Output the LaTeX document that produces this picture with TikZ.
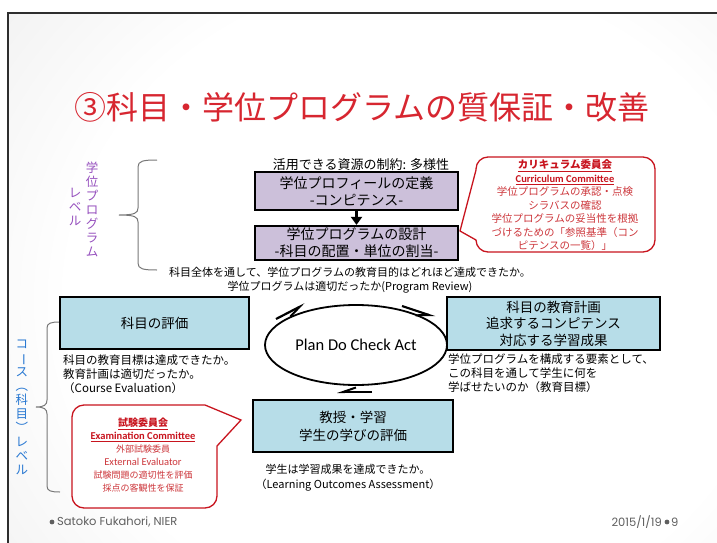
\documentclass[tikz,border=0pt]{standalone}
\usepackage{fontspec}
\usepackage{graphicx}
\setmainfont{Noto Sans CJK JP}
\newfontfamily\calibrif{Carlito}
\newfontfamily\footfont{Poppins}
\usetikzlibrary{arrows.meta,shapes.geometric}
\definecolor{titlered}{RGB}{215,38,48}
\definecolor{callred}{RGB}{200,20,30}
\definecolor{calltext}{RGB}{205,55,60}
\definecolor{lilac}{RGB}{204,192,218}
\definecolor{lblue}{RGB}{183,221,232}
\definecolor{purp}{RGB}{150,80,190}
\definecolor{cblue}{RGB}{40,120,210}
\definecolor{bracegray}{RGB}{120,120,120}
\definecolor{footgray}{RGB}{95,95,95}
\pgfdeclareradialshading{slidebg}{\pgfpoint{0bp}{0bp}}{color(0bp)=(white); color(20bp)=(white); color(50bp)=(black!15)}
\newcommand{\setfs}[2]{\fontsize{#1}{#2}\selectfont}
\newcommand{\vrotchar}[1]{\rotatebox[origin=c]{-90}{#1}}
\begin{document}
\begin{tikzpicture}[x=1pt,y=-1pt,
  box/.style={draw=black,line width=2.2pt,inner sep=0pt,align=center},
  lilacbox/.style={box,fill=lilac,minimum width=203pt,minimum height=38pt,font=\setfs{14}{17}},
  bluebox/.style={box,fill=lblue,font=\setfs{13.5}{17}},
  note/.style={inner sep=0pt,align=left,font=\setfs{11.5}{14}},
  brace/.style={draw=bracegray,line width=1pt},
  harp/.style={line width=2.2pt,-{Straight Barb[harpoon,swap,length=13pt,width=9pt,line width=2pt]}},
  callshape/.style={draw=callred,line width=1.3pt,fill=white},
  vtext/.style={inner sep=0pt,align=center,font=\setfs{12.5}{14}},
]
\useasboundingbox (0,0) rectangle (717,543);
% background
\fill[white] (0,0) rectangle (717,543);
\begin{scope}
  \clip (8,13) rectangle (717,543);
  \shade[shading=slidebg] (-20,-100) rectangle (860,700);
\end{scope}
\draw[line width=2.5pt,black!82] (8,545) -- (8,13) -- (719,13);

% title
\node[text=titlered,font=\setfs{32}{36},inner sep=0pt] (title) at (362,107) {③科目・学位プログラムの質保証・改善};

% upper level label and brace
\node[vtext,text=purp] (lvA) at (92,209) {学\\位\\プ\\ロ\\グ\\ラ\\ム};
\node[vtext,text=purp] (lvB) at (75,207) {レ\\ベ\\ル};
\draw[brace] (157,160) .. controls (143,160) and (138,161) .. (138,167) -- (138,208) .. controls (138,213) and (135,215) .. (119,215) .. controls (135,215) and (138,217) .. (138,222) -- (138,263) .. controls (138,269) and (143,270) .. (157,270);

% lower level label and brace
\node[vtext,text=cblue] (lvC) at (22,407) {コ\\\vrotchar{ー}\\ス\\\vrotchar{（}\\科\\目\\\vrotchar{）}\\レ\\ベ\\ル};
\draw[brace] (60,322) .. controls (51,322) and (47,323) .. (47,328) -- (47,400) .. controls (47,405) and (44,407) .. (36,407) .. controls (44,407) and (47,409) .. (47,414) -- (47,486) .. controls (47,491) and (51,492) .. (60,492);

% top flow
\node[inner sep=0pt,font=\setfs{13}{15}] (res) at (361,165) {活用できる資源の制約: 多様性};
\node[lilacbox] (prof) at (356.5,191) {学位プロフィールの定義\\-コンピテンス-};
\node[lilacbox,minimum height=34pt] (design) at (356.5,243) {学位プログラムの設計\\-科目の配置・単位の割当-};
\draw[line width=3pt,-{Triangle[length=8pt,width=11pt]}] (prof) -- (design);
\node[inner sep=0pt,align=center,font=\setfs{11}{14.5}] (review) at (350,280) {科目全体を通して、学位プログラムの教育目的はどれほど達成できたか。\\学位プログラムは適切だったか(Program Review)};

% curriculum committee callout
\draw[callshape] (476,170) -- (476,169) .. controls (476,162.4) and (481.4,157) .. (488,157) -- (643,157) .. controls (649.6,157) and (655,162.4) .. (655,169) -- (655,240) .. controls (655,246.6) and (649.6,252) .. (643,252) -- (488,252) .. controls (481.4,252) and (476,246.6) .. (476,240) -- (460,231) -- cycle;
\node[inner sep=0pt,align=center,text=calltext,font=\setfs{10.5}{13.5}] (cc) at (565,205.5) {%
  {\bfseries\color{callred}\underline{カリキュラム委員会}}\\
  {\calibrif\bfseries\color{callred}\underline{Curriculum Committee}}\\
  学位プログラムの承認・点検\\
  シラバスの確認\\
  学位プログラムの妥当性を根拠\\
  づけるための「参照基準（コン\\
  ピテンスの一覧）」};

% middle row
\node[bluebox,minimum width=189pt,minimum height=52pt] (eval) at (154.5,323) {科目の評価};
\node[note,anchor=west] (evalnote) at (63,374.5) {科目の教育目標は達成できたか。\\教育計画は適切だったか。\\（Course Evaluation）};
\node[bluebox,minimum width=213pt,minimum height=53pt,font=\setfs{13.5}{16.5}] (plan) at (553.5,323.5) {科目の教育計画\\追求するコンピテンス\\対応する学習成果};
\node[note,anchor=west] (plannote) at (448,373) {学位プログラムを構成する要素として、\\この科目を通して学生に何を\\学ばせたいのか（教育目標）};

\node[draw,ellipse,line width=1.8pt,fill=white,inner sep=0pt,minimum width=182pt,minimum height=80pt,font=\calibrif\setfs{16.5}{20}] (pdca) at (356,345) {Plan Do Check Act};

% bottom
\node[bluebox,minimum width=200pt,minimum height=52pt,font=\setfs{13.5}{18}] (teach) at (353,426) {教授・学習\\学生の学びの評価};
\node[inner sep=0pt,align=center,font=\setfs{11}{15}] (lo) at (348,478) {学生は学習成果を達成できたか。\\（Learning Outcomes Assessment）};

% cycle arrows
\coordinate (h1s) at (276,319); \coordinate (h1e) at (305,304);
\coordinate (h2s) at (402,306); \coordinate (h2e) at (435,317);
\coordinate (h3s) at (372,392); \coordinate (h3e) at (337,392);
\draw[harp] (h1s) -- (h1e);
\draw[harp] (h2s) -- (h2e);
\draw[harp] (h3s) -- (h3e);

% examination committee callout
\draw[callshape] (205,405) -- (84,405) .. controls (77.4,405) and (72,410.4) .. (72,417) -- (72,496) .. controls (72,502.6) and (77.4,508) .. (84,508) -- (205,508) .. controls (211.6,508) and (217,502.6) .. (217,496) -- (217,446) -- (241,420) -- cycle;
\node[inner sep=0pt,align=center,text=calltext,font=\setfs{9}{13}] (ec) at (143,455.5) {%
  {\setfs{10}{13}\bfseries\color{callred}\underline{試験委員会}}\\
  {\calibrif\setfs{10.5}{13}\bfseries\color{callred}\underline{Examination Committee}}\\
  外部試験委員\\
  {\calibrif\setfs{10.5}{13}External Evaluator}\\
  試験問題の適切性を評価\\
  採点の客観性を保証};

% footer
\fill[footgray] (52,522) circle (2.4);
\node[anchor=west,inner sep=0pt,text=footgray,font=\footfont\setfs{11.5}{13}] (author) at (57,522) {Satoko Fukahori, NIER};
\node[anchor=east,inner sep=0pt,text=footgray,font=\footfont\setfs{11.5}{13}] (date) at (662,522) {2015/1/19};
\fill[footgray] (667,522) circle (2.4);
\node[anchor=west,inner sep=0pt,text=footgray,font=\footfont\setfs{11.5}{13}] (page) at (671,522) {9};
\end{tikzpicture}
\end{document}
